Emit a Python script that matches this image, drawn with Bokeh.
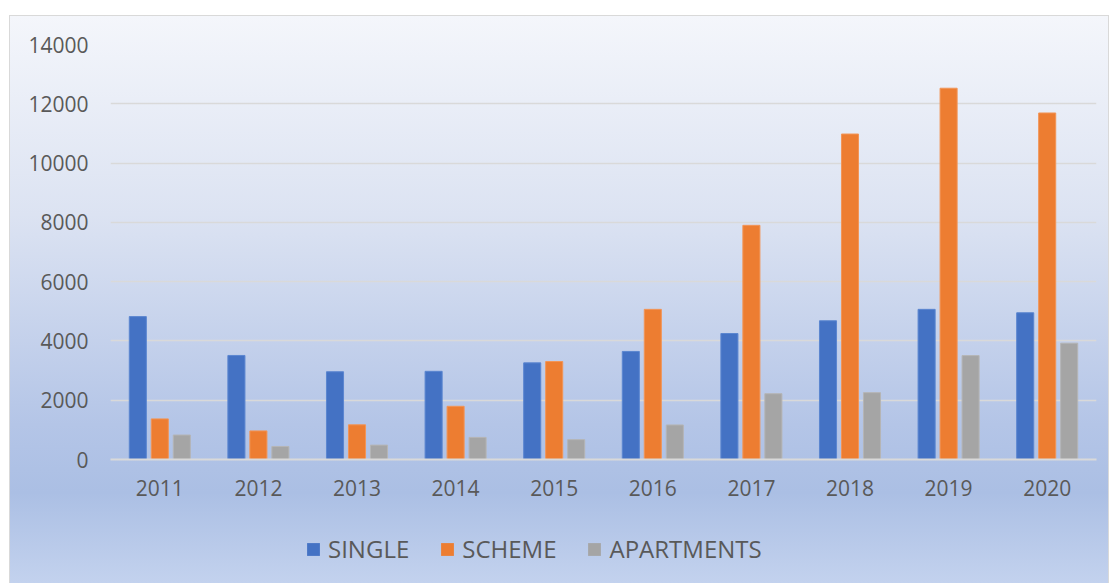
from bokeh.plotting import figure
from bokeh.layouts import column
from bokeh.models import ColumnDataSource, FactorRange, Legend, LegendItem, SingleIntervalTicker
from bokeh.transform import dodge
from bokeh.embed import file_html
from bokeh.resources import INLINE

years = ["2011", "2012", "2013", "2014", "2015", "2016", "2017", "2018", "2019", "2020"]
single = [4820, 3510, 2960, 2975, 3260, 3645, 4250, 4680, 5065, 4950]
scheme = [1370, 965, 1170, 1795, 3305, 5065, 7900, 10980, 12525, 11690]
apartments = [825, 440, 485, 745, 670, 1165, 2220, 2255, 3505, 3925]
series_names = ["SINGLE", "SCHEME", "APARTMENTS"]
colors = ["#4472C4", "#ED7D31", "#A5A5A5"]
edge_colors = ["#5B86D0", "#F29557", "#B5B5B5"]

source = ColumnDataSource(data=dict(years=years, SINGLE=single, SCHEME=scheme, APARTMENTS=apartments))

FONT = "Open Sans"
TXT = "#595959"

p = figure(
    x_range=FactorRange(*years),
    y_range=(0, 14000),
    width=1098, height=504,
    output_backend="svg", toolbar_location=None,
    min_border_left=100, min_border_right=12, min_border_top=28, min_border_bottom=61,
)
p.background_fill_alpha = 0
p.border_fill_alpha = 0
p.outline_line_color = None

offsets = [-0.223, 0.0, 0.223]
for name, c, ec, off in zip(series_names, colors, edge_colors, offsets):
    p.vbar(x=dodge("years", off, range=p.x_range), top=name, width=0.173, bottom=0,
           source=source, fill_color=c, line_color=ec, line_width=1)

p.xgrid.grid_line_color = None
p.ygrid.grid_line_color = "#D9D9D9"
p.ygrid.grid_line_width = 1.5
p.yaxis.ticker = SingleIntervalTicker(interval=2000)

p.yaxis.axis_line_color = None
p.yaxis.major_tick_line_color = None
p.yaxis.minor_tick_line_color = None
p.yaxis.major_tick_out = 0
p.yaxis.minor_tick_out = 0
p.yaxis.major_label_standoff = 22
p.yaxis.major_label_text_font = FONT
p.yaxis.major_label_text_font_size = "21px"
p.yaxis.major_label_text_color = TXT

p.xaxis.axis_line_color = "#D9D9D9"
p.xaxis.axis_line_width = 2
p.xaxis.major_tick_line_color = None
p.xaxis.minor_tick_line_color = None
p.xaxis.major_tick_out = 0
p.xaxis.minor_tick_out = 0
p.xaxis.major_label_standoff = 20
p.xaxis.major_label_text_font = FONT
p.xaxis.major_label_text_font_size = "21px"
p.xaxis.major_label_text_color = TXT

# legend strip (frame aligned with the chart's frame by the column layout)
lg = figure(width=1098, height=63, x_range=(0, 1), y_range=(0, 1),
            output_backend="svg", toolbar_location=None,
            x_axis_location=None, y_axis_location=None,
            min_border_left=0, min_border_right=0, min_border_top=0, min_border_bottom=0)
lg.background_fill_alpha = 0
lg.border_fill_alpha = 0
lg.outline_line_color = None
lg.grid.visible = False

items = []
for name, c in zip(series_names, colors):
    # zero-size proxy bar, used only for its legend swatch
    r = lg.vbar(x=[0], top=[0], bottom=[0], width=0, fill_color=c, line_color=None)
    items.append(LegendItem(label=name, renderers=[r]))

legend = Legend(
    items=items,
    orientation="horizontal",
    location=(195, 18),
    glyph_width=16, glyph_height=16,
    label_standoff=7, spacing=30, padding=0, margin=0,
    label_text_font=FONT, label_text_font_size="24px", label_text_color=TXT,
    background_fill_alpha=0, border_line_alpha=0,
)
lg.add_layout(legend, "center")

layout = column(p, lg, spacing=0)
layout.margin = (15, 0, 0, 9)
layout.styles = {
    "background-image": "linear-gradient(to bottom, #F4F6FB 0%, #DCE3F2 35%, #B4C5E7 72%, #ABBFE4 84%, #C3D2EE 100%)",
    "border": "1px solid #D9D9D9",
}

open("out.html", "w").write(file_html(layout, INLINE))
